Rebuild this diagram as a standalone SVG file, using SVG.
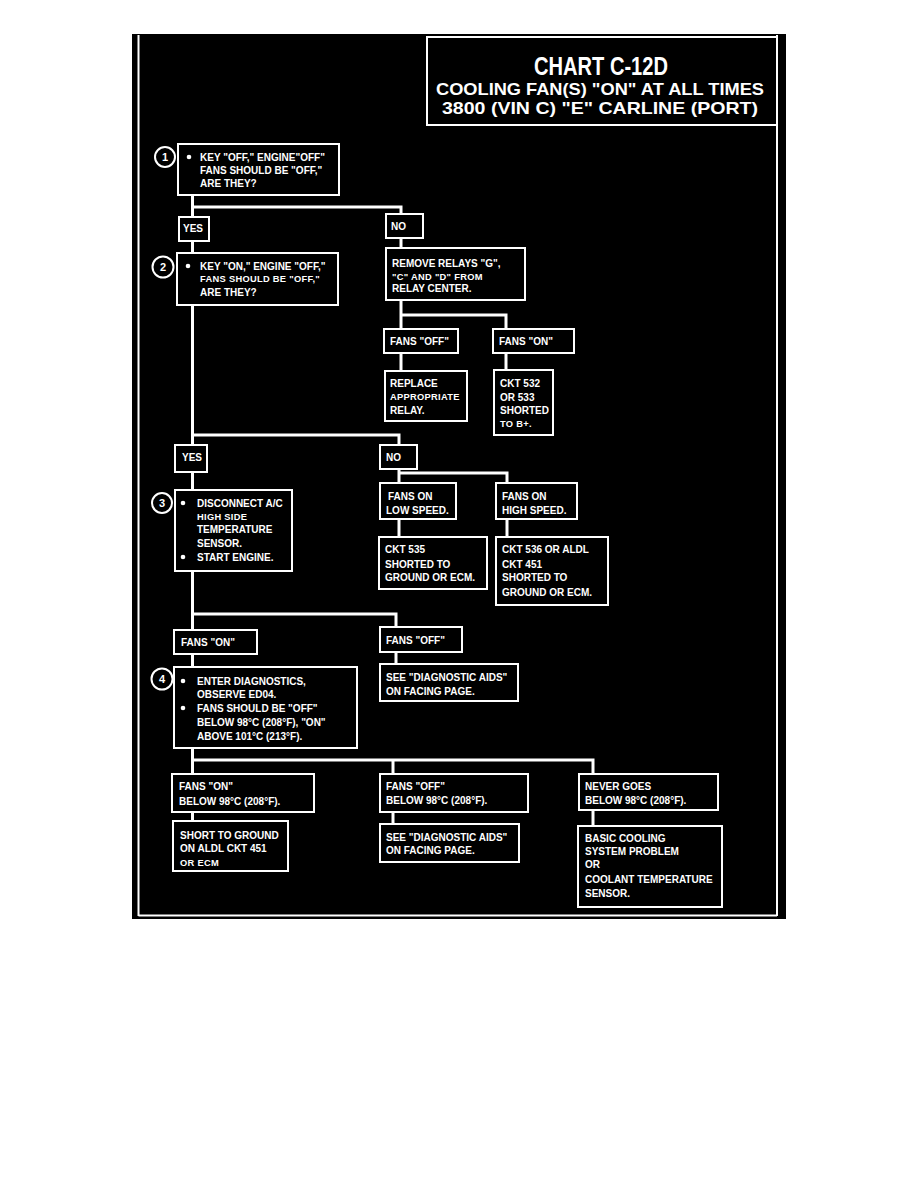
<svg xmlns="http://www.w3.org/2000/svg" width="918" height="1188" viewBox="0 0 918 1188">
<style>
.bx{fill:#000;stroke:#fff;stroke-width:2}
.cn polyline{fill:none;stroke:#fff;stroke-width:3}
.t{font-family:"Liberation Sans",Arial,sans-serif;font-weight:bold;font-size:10px;fill:#fff}
.sm{font-size:9.3px;letter-spacing:0.3px}
.ttl{font-family:"Liberation Sans",Arial,sans-serif;font-weight:bold;fill:#fff;text-anchor:middle}
.nc{fill:#000;stroke:#fff;stroke-width:2}
.nt{font-family:"Liberation Sans",Arial,sans-serif;font-weight:bold;font-size:11px;fill:#fff;text-anchor:middle}
.bl{fill:#fff}
</style>
<rect width="918" height="1188" fill="#fff"/>
<rect x="132" y="34" width="654" height="885" fill="#000"/>
<g id="frame" fill="none" stroke="#fff" stroke-width="2">
<line x1="138.5" y1="35" x2="138.5" y2="916"/>
<line x1="777" y1="35" x2="777" y2="916"/>
<line x1="138.5" y1="915.5" x2="777" y2="915.5"/>
</g>
<g id="title">
<rect class="bx" x="427" y="37" width="350" height="88"/>
<text class="ttl" x="601" y="75" font-size="25" textLength="134" lengthAdjust="spacingAndGlyphs">CHART C-12D</text>
<text class="ttl" x="600" y="95" font-size="16.5" textLength="328" lengthAdjust="spacingAndGlyphs">COOLING FAN(S) "ON" AT ALL TIMES</text>
<text class="ttl" x="600" y="114" font-size="16.5" textLength="316" lengthAdjust="spacingAndGlyphs">3800 (VIN C) "E" CARLINE (PORT)</text>
</g>
<g class="cn" id="connectors">
<polyline points="192.5,195 192.5,217"/>
<polyline points="192.5,207 401,207 401,214"/>
<polyline points="192.5,241 192.5,253"/>
<polyline points="401,238 401,248"/>
<polyline points="401,300 401,329"/>
<polyline points="401,315 506,315 506,329"/>
<polyline points="401,353 401,371"/>
<polyline points="506,353 506,370"/>
<polyline points="192.5,305 192.5,445"/>
<polyline points="192.5,435 399,435 399,445"/>
<polyline points="192.5,472 192.5,490"/>
<polyline points="399,469 399,483"/>
<polyline points="399,473 507,473 507,483"/>
<polyline points="399,519 399,537"/>
<polyline points="507,519 507,537"/>
<polyline points="192.5,571 192.5,630"/>
<polyline points="192.5,614 396,614 396,627"/>
<polyline points="192.5,654 192.5,667"/>
<polyline points="396,652 396,664"/>
<polyline points="192.5,748 192.5,774"/>
<polyline points="192.5,760 593,760 593,774"/>
<polyline points="393,760 393,774"/>
<polyline points="192.5,812 192.5,821"/>
<polyline points="393,812 393,824"/>
<polyline points="593,810 593,826"/>
</g>
<g id="step1">
<rect class="bx" x="178" y="144" width="161" height="51"/>
<circle class="nc" cx="165" cy="157" r="10"/>
<text class="nt" x="165" y="161">1</text>
<circle class="bl" cx="189" cy="157" r="2.3"/>
<text class="t" x="200" y="161">KEY "OFF," ENGINE"OFF"</text>
<text class="t" x="200" y="174">FANS SHOULD BE "OFF,"</text>
<text class="t" x="200" y="187">ARE THEY?</text>
</g>
<g id="yes1"><rect class="bx" x="179" y="217" width="30" height="24"/><text class="t" x="183" y="232">YES</text></g>
<g id="no1"><rect class="bx" x="386" y="214" width="37" height="24"/><text class="t" x="391" y="230">NO</text></g>
<g id="step2">
<rect class="bx" x="177" y="253" width="161" height="52"/>
<circle class="nc" cx="163" cy="267" r="10.5"/>
<text class="nt" x="163" y="271">2</text>
<circle class="bl" cx="188" cy="266" r="2.3"/>
<text class="t" x="200" y="270">KEY "ON," ENGINE "OFF,"</text>
<text class="t sm" x="200" y="282">FANS SHOULD BE "OFF,"</text>
<text class="t" x="200" y="296">ARE THEY?</text>
</g>
<g id="removeRelays">
<rect class="bx" x="386" y="248" width="139" height="52"/>
<text class="t" x="392" y="267">REMOVE RELAYS "G",</text>
<text class="t sm" x="392" y="280">"C" AND "D" FROM</text>
<text class="t" x="392" y="292">RELAY CENTER.</text>
</g>
<g id="fansOff1"><rect class="bx" x="384" y="329" width="74" height="24"/><text class="t" x="390" y="345">FANS "OFF"</text></g>
<g id="fansOn1"><rect class="bx" x="493" y="329" width="81" height="24"/><text class="t" x="499" y="345">FANS "ON"</text></g>
<g id="replaceRelay">
<rect class="bx" x="385" y="371" width="82" height="50"/>
<text class="t" x="390" y="387">REPLACE</text>
<text class="t sm" x="390" y="400">APPROPRIATE</text>
<text class="t" x="390" y="414">RELAY.</text>
</g>
<g id="ckt532">
<rect class="bx" x="494" y="370" width="59" height="65"/>
<text class="t" x="500" y="387">CKT 532</text>
<text class="t" x="500" y="401">OR 533</text>
<text class="t" x="500" y="414">SHORTED</text>
<text class="t sm" x="500" y="427">TO B+.</text>
</g>
<g id="yes2"><rect class="bx" x="175" y="445" width="32" height="27"/><text class="t" x="182" y="461">YES</text></g>
<g id="no2"><rect class="bx" x="380" y="445" width="37" height="24"/><text class="t" x="386" y="461">NO</text></g>
<g id="step3">
<rect class="bx" x="175" y="490" width="117" height="81"/>
<circle class="nc" cx="162" cy="503" r="10"/>
<text class="nt" x="162" y="507">3</text>
<circle class="bl" cx="183" cy="503" r="2.3"/>
<text class="t" x="197" y="507">DISCONNECT A/C</text>
<text class="t sm" x="197" y="520">HIGH SIDE</text>
<text class="t" x="197" y="533">TEMPERATURE</text>
<text class="t" x="197" y="547">SENSOR.</text>
<circle class="bl" cx="183" cy="557" r="2.3"/>
<text class="t" x="197" y="561">START ENGINE.</text>
</g>
<g id="lowSpeed">
<rect class="bx" x="380" y="483" width="76" height="36"/>
<text class="t" x="388" y="500">FANS ON</text>
<text class="t" x="386" y="514">LOW SPEED.</text>
</g>
<g id="highSpeed">
<rect class="bx" x="496" y="483" width="81" height="36"/>
<text class="t" x="502" y="500">FANS ON</text>
<text class="t" x="502" y="514">HIGH SPEED.</text>
</g>
<g id="ckt535">
<rect class="bx" x="379" y="537" width="108" height="52"/>
<text class="t" x="385" y="553">CKT 535</text>
<text class="t" x="385" y="568">SHORTED TO</text>
<text class="t" x="385" y="581">GROUND OR ECM.</text>
</g>
<g id="ckt536">
<rect class="bx" x="496" y="537" width="112" height="68"/>
<text class="t" x="502" y="553">CKT 536 OR ALDL</text>
<text class="t" x="502" y="568">CKT 451</text>
<text class="t" x="502" y="581">SHORTED TO</text>
<text class="t" x="502" y="596">GROUND OR ECM.</text>
</g>
<g id="fansOn3"><rect class="bx" x="174" y="630" width="83" height="24"/><text class="t" x="181" y="646">FANS "ON"</text></g>
<g id="fansOff3"><rect class="bx" x="380" y="627" width="82" height="25"/><text class="t" x="386" y="644">FANS "OFF"</text></g>
<g id="diagAids1">
<rect class="bx" x="380" y="664" width="138" height="37"/>
<text class="t" x="386" y="681">SEE "DIAGNOSTIC AIDS"</text>
<text class="t" x="386" y="695">ON FACING PAGE.</text>
</g>
<g id="step4">
<rect class="bx" x="174" y="667" width="183" height="81"/>
<circle class="nc" cx="162" cy="679" r="10.5"/>
<text class="nt" x="162" y="683">4</text>
<circle class="bl" cx="183" cy="681" r="2.3"/>
<text class="t" x="197" y="685">ENTER DIAGNOSTICS,</text>
<text class="t" x="197" y="698">OBSERVE ED04.</text>
<circle class="bl" cx="183" cy="708" r="2.3"/>
<text class="t" x="197" y="712">FANS SHOULD BE "OFF"</text>
<text class="t" x="197" y="726">BELOW 98°C (208°F), "ON"</text>
<text class="t" x="197" y="740">ABOVE 101°C (213°F).</text>
</g>
<g id="fansOnBelow">
<rect class="bx" x="172" y="774" width="142" height="38"/>
<text class="t" x="179" y="790">FANS "ON"</text>
<text class="t" x="179" y="805">BELOW 98°C (208°F).</text>
</g>
<g id="shortToGround">
<rect class="bx" x="173" y="821" width="115" height="50"/>
<text class="t" x="180" y="839">SHORT TO GROUND</text>
<text class="t" x="180" y="852">ON ALDL CKT 451</text>
<text class="t sm" x="180" y="866">OR ECM</text>
</g>
<g id="fansOffBelow">
<rect class="bx" x="380" y="774" width="148" height="38"/>
<text class="t" x="386" y="790">FANS "OFF"</text>
<text class="t" x="386" y="804">BELOW 98°C (208°F).</text>
</g>
<g id="diagAids2">
<rect class="bx" x="380" y="824" width="139" height="38"/>
<text class="t" x="386" y="841">SEE "DIAGNOSTIC AIDS"</text>
<text class="t" x="386" y="854">ON FACING PAGE.</text>
</g>
<g id="neverGoes">
<rect class="bx" x="579" y="774" width="139" height="36"/>
<text class="t" x="585" y="790">NEVER GOES</text>
<text class="t" x="585" y="804">BELOW 98°C (208°F).</text>
</g>
<g id="basicCooling">
<rect class="bx" x="578" y="826" width="144" height="81"/>
<text class="t" x="585" y="842">BASIC COOLING</text>
<text class="t" x="585" y="855">SYSTEM PROBLEM</text>
<text class="t" x="585" y="868">OR</text>
<text class="t" x="585" y="883">COOLANT TEMPERATURE</text>
<text class="t" x="585" y="897">SENSOR.</text>
</g>
</svg>
